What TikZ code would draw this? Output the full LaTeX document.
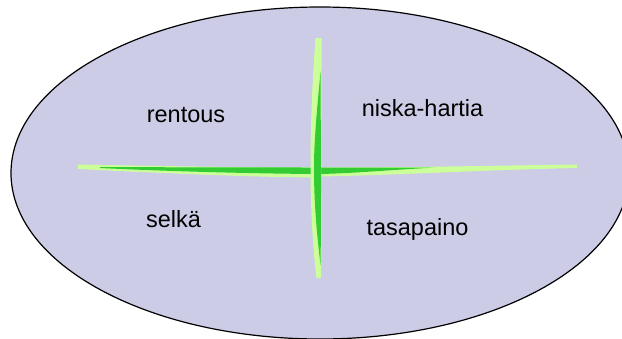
\documentclass[tikz,border=0pt]{standalone}
\usepackage{fontspec}
\setmainfont{Liberation Sans}
\definecolor{lav}{RGB}{204,204,230}
\definecolor{dkg}{RGB}{51,204,51}
\definecolor{ltg}{RGB}{204,255,153}
\begin{document}
\begin{tikzpicture}[x=1pt,y=-1pt,
  lbl/.style={anchor=base,inner sep=0pt,font=\fontsize{23.5}{28}\selectfont}]
\useasboundingbox (0,0) rectangle (622,338);
\begin{scope}
\clip (0,0) rectangle (622,338);
\fill[lav] (320,173) ellipse [x radius=309, y radius=166];
\draw[black,line width=1.2pt] (320,173) ellipse [x radius=309, y radius=166];
\end{scope}
% horizontal arm, left
\fill[ltg] (78,164.5) .. controls (180,166.5) and (260,167.5) .. (316,167.5) -- (316,177.5) .. controls (240,177) and (140,172) .. (78,169) -- cycle;
\fill[dkg] (100,167) .. controls (160,167.3) and (260,167.5) .. (316,167.5) -- (316,174) .. controls (240,173.5) and (150,170.5) .. (100,168) -- cycle;
% horizontal arm, right
\fill[ltg] (319,167.5) .. controls (420,167.5) and (500,165.5) .. (577,164.5) -- (577,168) .. controls (480,170) and (400,175) .. (319,176.5) -- cycle;
\fill[dkg] (319,167.5) .. controls (380,167.5) .. (435,167.5) .. controls (390,170) and (350,173.5) .. (319,174) -- cycle;
% vertical arm
\fill[ltg] (315.5,38) .. controls (311,100) and (310.5,140) .. (310.5,168) .. controls (310.5,210) and (313,250) .. (316.5,278) -- (321,278) .. controls (321.5,230) .. (321,168) .. controls (321.5,110) .. (321.5,38) -- cycle;
\fill[dkg] (320.5,72) .. controls (317,110) and (314,140) .. (314,168) .. controls (314,205) and (317,235) .. (320.5,265) .. controls (321,230) .. (321,168) .. controls (321,120) .. (320.5,72) -- cycle;
% labels
\node[lbl] (rentous) at (186,122) {rentous};
\node[lbl] (niska) at (422.5,116.5) {niska-hartia};
\node[lbl] (selka) at (173.5,227) {selkä};
\node[lbl] (tasapaino) at (417.5,235) {tasapaino};
\end{tikzpicture}
\end{document}
